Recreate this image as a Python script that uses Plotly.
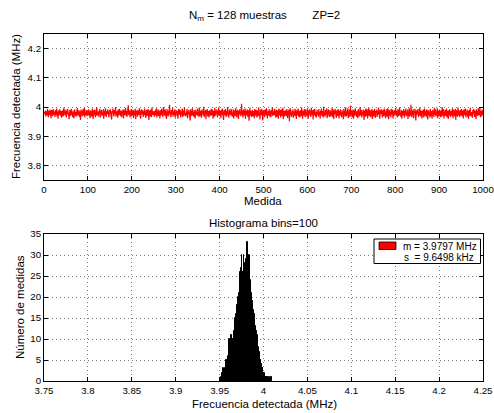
import numpy as np
import plotly.graph_objects as go
from plotly.subplots import make_subplots

# ---------------- data ----------------
# Top panel: detected frequency for each of the 1000 measurements,
# stored as deviation (kHz) from 3980 kHz, read from the trace.
frecuencia_base_khz = 3980.0
desviacion_khz = [
    3,-5,8,-12,1,6,-9,14,-3,-15,7,2,-8,11,-4,-18,5,9,-1,-11,13,-6,0,4,-14,
    10,-7,-2,15,-13,3,-20,8,1,-6,12,-10,-3,6,-17,2,9,-5,-12,17,-2,5,-9,-1,11,
    -16,4,-8,13,-4,0,-22,7,10,-11,-3,14,-7,2,-15,8,-1,-19,6,12,-9,3,-13,5,-6,
    16,-10,1,-4,9,-14,4,-24,11,-2,7,-12,0,13,-8,-5,18,-16,2,-7,10,-3,-11,6,-1,
    -9,12,-6,3,-18,8,-2,5,-13,15,-4,-21,9,1,-7,11,-15,4,-10,19,-3,-8,2,-12,7,
    -1,14,-17,6,-5,10,-11,0,-6,13,-20,3,8,-9,16,-2,-14,5,-4,11,-8,1,-16,9,-3,
    12,-10,4,-23,7,-1,15,-6,-12,2,9,-5,20,-13,3,-8,6,-17,11,-2,-9,14,-4,0,-11,
    8,-15,5,-3,12,-19,1,10,-7,-2,17,-10,6,-14,3,-5,26,-8,-1,9,-16,4,-6,13,-12,
    2,-4,11,-18,7,0,-9,14,-22,5,-3,10,-13,8,-1,-7,16,-11,3,-20,6,12,-5,-2,9,
    -14,4,-8,15,-3,1,-17,7,10,-10,-6,13,-2,-24,8,3,-12,11,-4,-15,18,-7,2,5,-9,
    6,-13,-1,10,-8,16,-16,3,-5,12,-11,0,7,-19,9,-3,-9,14,2,-6,-14,20,-2,4,-10,
    11,-7,1,-21,13,-4,6,-12,8,-1,28,-9,3,-15,10,-5,-2,17,-13,5,-8,2,12,-17,4,
    -3,9,-11,7,-20,1,14,-6,-1,11,-16,5,-9,3,15,-14,-4,8,-10,19,-7,0,-12,6,-2,
    13,-18,4,-5,10,-9,2,-26,12,-3,6,-11,16,-7,1,-13,9,-1,-19,7,11,-6,3,-10,15,
    -8,2,-14,18,-4,-11,7,0,-17,12,-2,5,-9,21,-15,4,-6,10,-22,8,-3,13,-12,1,6,
    -16,9,-5,3,-10,14,-1,-8,11,-20,6,2,-13,17,-4,-9,8,-2,12,-15,4,-7,19,-11,0,
    7,-3,-18,10,-6,15,-12,2,-24,9,3,-8,13,-1,-14,6,-5,20,-10,1,-17,11,-4,8,-9,
    14,-2,5,-13,-7,12,-19,4,9,-11,0,16,-6,-15,3,10,-3,-21,7,-1,13,-8,2,-12,31,
    -5,8,-16,1,11,-9,-3,15,-20,6,-7,4,12,-13,-2,9,-27,5,17,-10,-4,7,-14,3,10,
    -11,1,6,-18,13,-5,-9,10,-2,-16,8,3,-12,18,-7,0,-23,11,5,-8,14,-1,-26,7,-3,
    9,-14,2,12,-6,-10,16,-3,-19,5,1,-8,13,-12,7,-2,-15,10,-5,19,-11,4,-7,0,14,
    -9,6,-17,11,-1,-13,8,3,-20,15,-4,-7,10,-16,2,12,-10,-3,17,-22,6,1,-12,9,-5,
    4,-11,13,-2,-18,7,-6,11,-29,3,16,-9,0,-14,8,-4,12,-17,5,-1,-10,14,-6,2,-21,
    10,-3,-8,15,-13,6,-1,-16,9,4,-11,18,-5,-20,7,1,-9,13,-2,-15,11,-7,3,-12,16,
    -4,-19,8,-1,12,-10,5,-14,17,-6,-2,9,-23,11,0,-8,14,-12,3,-17,7,10,-5,-1,-13,
    13,-7,2,-20,8,-3,15,-11,-4,6,-16,21,-9,1,-13,10,-2,-6,16,-18,4,-10,12,-1,-14,
    5,9,-12,3,-8,17,-15,-2,11,-21,7,-5,14,-9,0,-17,9,4,-11,13,-3,-19,6,-7,12,
    -10,3,-16,10,-5,1,-22,14,-8,6,-13,19,-2,-11,8,-4,15,-18,2,-7,11,-14,25,-9,-1,
    6,-15,4,12,-20,-3,9,-10,16,-6,1,-14,7,-1,-18,13,-8,3,-12,20,-5,-9,10,-16,2,
    -7,11,-2,-24,8,5,-13,15,-4,-10,12,-19,3,-6,17,-11,-1,9,-15,6,-3,13,-21,4,8,
    -12,2,14,-8,-17,7,-1,11,-14,4,-6,18,-10,0,-20,9,-4,13,-9,3,-16,10,-2,-11,15,
    -5,8,-18,1,12,-7,-13,16,-3,-22,6,10,-9,3,-15,14,-1,-6,11,-19,5,-12,9,-4,2,
    17,-10,-2,7,-16,12,-5,-11,4,19,-8,-1,-14,10,-20,6,2,-9,13,-3,-17,8,-6,15,-12,
    1,-7,11,-21,5,-4,16,-13,3,-9,28,-2,-15,8,-6,12,-18,4,-1,14,-11,-26,7,-8,10,
    -3,13,-14,2,-9,18,-6,-12,9,0,-19,6,-4,11,-16,3,15,-10,-1,7,-13,12,-5,-23,4,
    9,-8,1,-17,14,-3,-11,6,-20,10,-2,5,-14,17,-7,-1,12,-12,3,-9,16,-18,8,-4,-10,
    11,-6,-15,4,8,-13,20,-2,-9,13,-19,2,-5,10,-11,-3,15,-16,7,0,-21,9,-8,12,-4,
    -14,5,2,-10,16,-7,-18,11,-1,7,-12,14,-24,3,9,-6,-13,18,-3,-9,6,-15,10,1,-8,
    13,-11,-4,8,-19,4,12,-8,-2,15,-16,1,-6,11,-13,6,-21,9,2,-10,17,-5,-12,3,-1,
    -17,10,-3,14,-9,-14,7,0,-22,12,-7,5,-11,16,-4,-8,3,19,-15,6,-2,-12,11,-6,9,
]
medida = list(range(1, len(desviacion_khz) + 1))

# Bottom panel: histogram with 100 bins (counts)
hist_inicio_mhz = 3.9515
hist_ancho_bin_mhz = 0.00058
conteos = [
    1,0,1,
    2,3,2,3,2,3,4,
    5,4,5,6,5,9,
    10,9,10,10,11,10,10,9,10,11,12,13,
    15,16,14,17,18,
    20,19,21,20,24,
    26,25,27,30,
    26,24,26,30,
    27,25,28,26,29,24,33,
    28,26,30,27,30,
    22,24,20,21,19,
    17,16,15,16,13,12,
    12,10,11,9,8,7,7,
    6,5,5,4,3,3,
    3,2,2,1,2,1,1,
    1,0,1,1,0,1,0,0,1,0,1,
]

media_mhz = 3.9797
sigma_khz = 9.6498

top_yticks = [3.8, 3.9, 4.0, 4.1, 4.2]
top_ytick_text = ["3.8", "3.9", "4", "4.1", "4.2"]
top_xticks = list(range(0, 1001, 100))
bot_xticks = [3.75, 3.8, 3.85, 3.9, 3.95, 4.0, 4.05, 4.1, 4.15, 4.2, 4.25]
bot_xtick_text = ["3.75", "3.8", "3.85", "3.9", "3.95", "4", "4.05", "4.1", "4.15", "4.2", "4.25"]
bot_yticks = [0, 5, 10, 15, 20, 25, 30, 35]

# ---------------- figure ----------------
W, H = 494, 413
frecuencia_mhz = (frecuencia_base_khz + np.array(desviacion_khz, dtype=float)) / 1000.0
centros = hist_inicio_mhz + (np.arange(len(conteos)) + 0.5) * hist_ancho_bin_mhz

FONT = "Liberation Sans, Arial, Helvetica, sans-serif"

fig = make_subplots(rows=2, cols=1)
fig.add_trace(go.Scatter(x=medida, y=frecuencia_mhz, mode="lines",
                         line=dict(color="#ff0000", width=1.2), showlegend=False,
                         hoverinfo="skip"), row=1, col=1)
fig.add_trace(go.Bar(x=centros, y=conteos, width=hist_ancho_bin_mhz,
                     marker=dict(color="black", line=dict(color="black", width=1)),
                     showlegend=False), row=2, col=1)

def px(x):
    return x / W

def py(y):
    return 1 - y / H

xdom = [px(44), px(483)]
axis_common = dict(showline=True, linecolor="black", linewidth=1, mirror="ticks",
                   ticks="inside", ticklen=4, tickcolor="black", automargin=False,
                   ticklabeloverflow="allow",
                   showgrid=True, gridcolor="#7a7a7a", griddash="1px,3px", gridwidth=1,
                   zeroline=False, tickfont=dict(family=FONT, size=9.7, color="black"))

fig.update_layout(
    template="none",
    width=W, height=H, margin=dict(l=0, r=0, t=0, b=0, pad=0),
    paper_bgcolor="white", plot_bgcolor="white",
    font=dict(family=FONT, size=11, color="black"),
    bargap=0,
    xaxis=dict(domain=xdom, range=[0, 1000], tickvals=top_xticks, **axis_common),
    yaxis=dict(domain=[py(180), py(34)], range=[3.75, 4.25], tickvals=top_yticks,
               ticktext=top_ytick_text, **axis_common),
    xaxis2=dict(domain=xdom, range=[3.75, 4.25], tickvals=bot_xticks,
                ticktext=bot_xtick_text, **axis_common),
    yaxis2=dict(domain=[py(381), py(234)], range=[0, 35], tickvals=bot_yticks, **axis_common),
)

ann = []
def text(t, x, y, size=11.5, angle=0, xanchor="center"):
    ann.append(dict(text=t, x=px(x), y=py(y), xref="paper", yref="paper",
                    showarrow=False, xanchor=xanchor, yanchor="middle",
                    textangle=angle, font=dict(family=FONT, size=size, color="black")))

text("N<sub>m</sub> = 128 muestras&nbsp;&nbsp;&nbsp;&nbsp;&nbsp;&nbsp;&nbsp;&nbsp;ZP=2", 264, 16)
text("Medida", 263, 201)
text("Frecuencia detectada (MHz)", 16, 107, angle=-90)
text("Histograma bins=100", 263, 223)
text("Frecuencia detectada (MHz)", 264, 404)
text("Número de medidas", 20, 307, angle=-90)
text(f"m = {media_mhz:.4f} MHz", 401, 246.5, size=10, xanchor="left")
text(f"s&nbsp;&nbsp;= {sigma_khz:.4f} kHz", 402, 257, size=10, xanchor="left")
fig.update_layout(annotations=ann)

fig.update_layout(shapes=[
    dict(type="rect", xref="paper", yref="paper", x0=px(374), x1=px(480.5),
         y0=py(263.5), y1=py(239), line=dict(color="black", width=1), fillcolor="white"),
    dict(type="rect", xref="paper", yref="paper", x0=px(379), x1=px(396),
         y0=py(249.5), y1=py(242), line=dict(color="black", width=0.8), fillcolor="#ff0000"),
])

fig.write_html("out.html", config={"displayModeBar": False},
               post_script="document.body.style.margin='0';document.body.style.overflow='hidden';")
